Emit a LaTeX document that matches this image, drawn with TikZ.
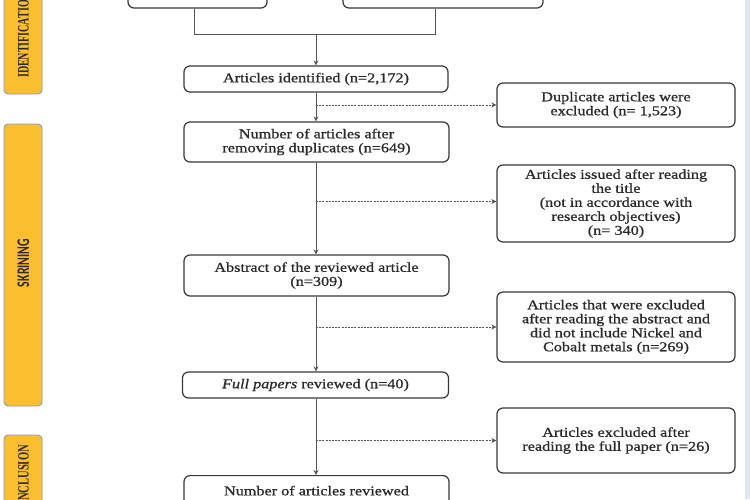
\documentclass[tikz,border=0pt]{standalone}
\usepackage{fontspec}
\setmainfont{Liberation Serif}
\newfontfamily\bx[FakeStretch=1.2,FakeBold=0.9]{Liberation Serif}
\newfontfamily\lblserif{Liberation Serif}
\newfontfamily\lblsans{Carlito}
\usetikzlibrary{arrows.meta,calc}
\definecolor{boxline}{HTML}{383838}
\definecolor{txt}{HTML}{2A2A2A}
\definecolor{conn}{HTML}{555555}
\definecolor{barfill}{HTML}{FBBE2E}
\definecolor{barline}{HTML}{8C9BBE}
\definecolor{strip}{HTML}{E2E5F3}
\tikzset{
  flowbox/.style={draw=boxline, line width=1.2pt, rounded corners=6pt, fill=white,
    align=center, inner sep=2pt, text=txt,
    font=\bx\fontsize{13.5}{14}\selectfont},
  arr/.style={draw=conn, line width=0.9pt, -{Stealth[length=5pt,width=5pt]}},
  darr/.style={draw=conn, line width=0.7pt, dash pattern=on 2pt off 1.2pt, -{Stealth[length=5pt,width=5pt]}},
  plain/.style={draw=conn, line width=0.9pt},
  sidebar/.style={draw=barline, fill=barfill, line width=0.9pt, rounded corners=4pt},
  sidelbl/.style={rotate=90, inner sep=0pt, text=txt}
}
\begin{document}
\begin{tikzpicture}[x=1pt,y=-1pt]
\useasboundingbox (0,0) rectangle (750,499);
\clip (0,0) rectangle (750,499);
\fill[white] (0,0) rectangle (750,499);
\fill[strip] (745,0) rectangle (750,499);
% side bars
\draw[sidebar] (4,-40) rectangle (42,94);
\draw[sidebar] (4,124) rectangle (42,406);
\draw[sidebar] (4,435) rectangle (42,560);
\node[sidelbl, anchor=west] (lid) at (23.5,78) {\lblserif\bfseries\fontsize{10}{10}\selectfont\scalebox{1}[1.6]{IDENTIFICATION}};
\node[sidelbl] (lsk) at (23.5,263) {\lblsans\bfseries\fontsize{11.8}{12}\selectfont\scalebox{1}[1.5]{SKRINING}};
\node[sidelbl, anchor=east] (lin) at (23.5,445) {\lblserif\bfseries\fontsize{10.5}{10}\selectfont\scalebox{1}[1.5]{INCLUSION}};
% boxes
\node[flowbox, minimum width=139pt, minimum height=40pt] (topL) at (197.5,-12) {};
\node[flowbox, minimum width=200pt, minimum height=40pt] (topR) at (443,-12) {};
\node[flowbox, minimum width=264pt, minimum height=26pt] (ident) at (316,79) {Articles identified (n=2,172)};
\node[flowbox, minimum width=238pt, minimum height=44pt] (dup) at (616,105) {Duplicate articles were\\excluded (n= 1,523)};
\node[flowbox, minimum width=265pt, minimum height=40pt] (after) at (316.5,142) {Number of articles after\\removing duplicates (n=649)};
\node[flowbox, minimum width=238pt, minimum height=77pt] (issued) at (616,203.5) {Articles issued after reading\\the title\\(not in accordance with\\research objectives)\\(n= 340)};
\node[flowbox, minimum width=265pt, minimum height=41pt] (abs) at (316.5,275.5) {Abstract of the reviewed article\\(n=309)};
\node[flowbox, minimum width=238pt, minimum height=70pt] (absx) at (616,327) {Articles that were excluded\\after reading the abstract and\\did not include Nickel and\\Cobalt metals (n=269)};
\node[flowbox, minimum width=266pt, minimum height=26pt] (full) at (315.5,385) {\textit{Full papers} reviewed (n=40)};
\node[flowbox, minimum width=238pt, minimum height=65pt] (fullx) at (616,440.5) {Articles excluded after\\reading the full paper (n=26)};
\node[flowbox, minimum width=265pt, minimum height=44pt, anchor=north] (rev) at (316.5,475) {Number of articles reviewed\\\phantom{x}};
% top connectors
\coordinate (jl) at (194,34);
\coordinate (jr) at (435,34);
\coordinate (jm) at (316,34);
\draw[plain] (jl |- topL.south) -- (jl) -- (jr) -- (jr |- topR.south);
\draw[arr] (jm) -- (jm |- ident.north);
% main flow
\draw[arr] (ident.south) -- (ident.south |- after.north);
\draw[arr] (ident.south |- after.south) -- (ident.south |- abs.north);
\draw[arr] (ident.south |- abs.south) -- (ident.south |- full.north);
\draw[arr] (ident.south |- full.south) -- (ident.south |- rev.north);
% exclusions
\draw[darr] (dup.west -| ident.south) -- (dup.west);
\draw[darr] ($(issued.west -| ident.south)+(0,-2)$) -- ($(issued.west)+(0,-2)$);
\draw[darr] (absx.west -| ident.south) -- (absx.west);
\draw[darr] (fullx.west -| ident.south) -- (fullx.west);
\end{tikzpicture}
\end{document}
